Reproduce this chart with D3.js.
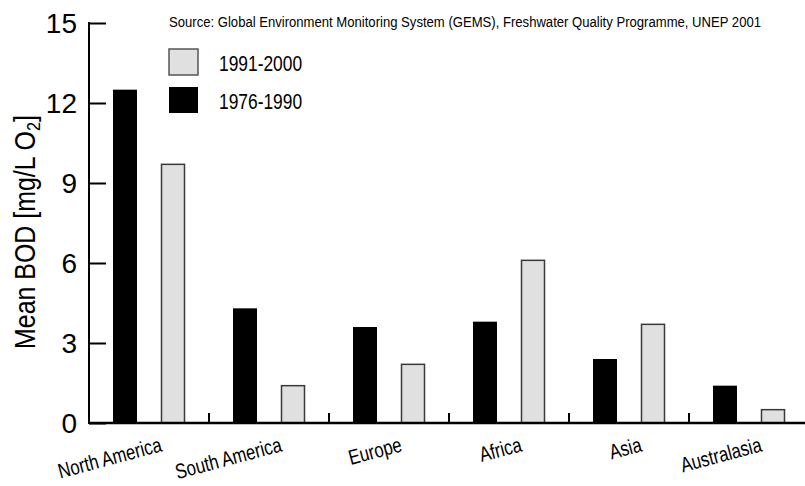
<!DOCTYPE html>
<html>
<head>
<meta charset="utf-8">
<script src="https://cdn.jsdelivr.net/npm/d3@7"></script>
<style>
  body { margin: 0; background: #fff; }
  text { font-family: "Liberation Sans", Arial, sans-serif; }
</style>
</head>
<body>
<div id="chartContainer"></div>
<script>
var regions = ["North America", "South America", "Europe", "Africa", "Asia", "Australasia"];
var early = [12.5, 4.3, 3.6, 3.8, 2.4, 1.4];   // 1976-1990
var late = [9.7, 1.4, 2.2, 6.1, 3.7, 0.5];     // 1991-2000
var yTicks = [0, 3, 6, 9, 12, 15];
var seriesNames = ["1991-2000", "1976-1990"];

function init() {
    var w = 805, h = 486;
    var left = 89, right = 809, top = 23, bottom = 423;
    var narrow = 0.8; // the original uses a condensed face

    var svg = d3.select("#chartContainer")
        .append("svg")
        .attr("width", w)
        .attr("height", h);

    var x = d3.scaleBand()
        .domain(regions)
        .range([left, right]);

    var y = d3.scaleLinear()
        .domain([0, 15])
        .range([bottom, top]);

    var bw = 24;

    // bars
    var groups = svg.selectAll("g.region")
        .data(regions)
        .enter()
        .append("g")
        .attr("class", "region");

    groups.append("rect")
        .attr("x", function(d) { return x(d) + 24; })
        .attr("y", function(d, i) { return y(early[i]); })
        .attr("width", bw)
        .attr("height", function(d, i) { return bottom - y(early[i]); })
        .attr("fill", "#000");

    groups.append("rect")
        .attr("x", function(d) { return x(d) + 72.5; })
        .attr("y", function(d, i) { return y(late[i]); })
        .attr("width", bw - 1)
        .attr("height", function(d, i) { return bottom - y(late[i]); })
        .attr("fill", "#e0e0e0")
        .attr("stroke", "#3a3a3a")
        .attr("stroke-width", 1.5);

    // y axis
    var yAxis = svg.append("g")
        .attr("transform", "translate(" + left + ",0)")
        .call(d3.axisRight(y).tickValues(yTicks).tickSize(17).tickFormat(""));
    yAxis.select(".domain").remove();
    yAxis.selectAll(".tick line").attr("stroke", "#000").attr("stroke-width", 2);

    svg.append("line")
        .attr("x1", left).attr("x2", left)
        .attr("y1", top - 1).attr("y2", bottom + 1)
        .attr("stroke", "#000").attr("stroke-width", 2);

    svg.selectAll("text.ytick")
        .data(yTicks)
        .enter()
        .append("text")
        .attr("class", "ytick")
        .attr("x", 77)
        .attr("y", function(d) { return y(d) + 10; })
        .attr("text-anchor", "end")
        .attr("font-size", 28)
        .text(function(d) { return d; });

    // x axis
    svg.append("line")
        .attr("x1", left).attr("x2", w)
        .attr("y1", bottom).attr("y2", bottom)
        .attr("stroke", "#000").attr("stroke-width", 2.5);

    svg.selectAll("line.xtick")
        .data(regions.slice(1))
        .enter()
        .append("line")
        .attr("class", "xtick")
        .attr("x1", function(d) { return x(d); })
        .attr("x2", function(d) { return x(d); })
        .attr("y1", bottom).attr("y2", bottom - 10)
        .attr("stroke", "#000").attr("stroke-width", 2);

    svg.selectAll("text.xlabel")
        .data(regions)
        .enter()
        .append("text")
        .attr("class", "xlabel")
        .attr("text-anchor", "end")
        .attr("font-size", 21)
        .attr("transform", function(d) {
            return "translate(" + (x(d) + x.bandwidth() / 2 + 14) + ",451) rotate(-15) scale(" + narrow + ",1)";
        })
        .text(function(d) { return d; });

    // y label
    var yl = svg.append("text")
        .attr("text-anchor", "middle")
        .attr("font-size", 29)
        .attr("transform", "translate(35,232) rotate(-90) scale(0.86,1)");
    yl.append("tspan").text("Mean BOD [mg/L O");
    yl.append("tspan").attr("font-size", 19).attr("dy", 5).text("2");
    yl.append("tspan").attr("dy", -5).text("]");

    // source
    svg.append("text")
        .attr("x", 169)
        .attr("y", 27)
        .attr("font-size", 14)
        .attr("textLength", 592)
        .attr("lengthAdjust", "spacingAndGlyphs")
        .text("Source: Global Environment Monitoring System (GEMS), Freshwater Quality Programme, UNEP 2001");

    // legend
    var legend = svg.selectAll("g.legend")
        .data(seriesNames)
        .enter()
        .append("g")
        .attr("class", "legend")
        .attr("transform", function(d, i) { return "translate(169," + (49 + i * 38) + ")"; });

    legend.append("rect")
        .attr("width", 29)
        .attr("height", 26)
        .attr("fill", function(d, i) { return i === 0 ? "#e0e0e0" : "#000"; })
        .attr("stroke", function(d, i) { return i === 0 ? "#555" : "none"; })
        .attr("stroke-width", 1.5);

    legend.append("text")
        .attr("font-size", 22)
        .attr("transform", "translate(50,22) scale(0.79,1)")
        .text(function(d) { return d; });
}

window.onload = init;
</script>
</body>
</html>
